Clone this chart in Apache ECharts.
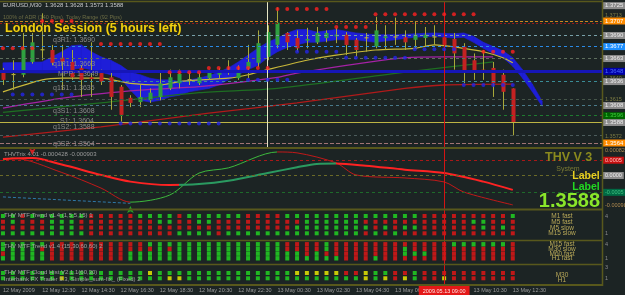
<!DOCTYPE html>
<html><head><meta charset="utf-8">
<script src="https://cdn.jsdelivr.net/npm/echarts@6/dist/echarts.min.js"></script>
<style>html,body{margin:0;padding:0;background:#1c2424;}#c{width:625px;height:295px;}</style>
</head><body><div id="c"></div>
<script>
// ---------------- DATA ----------------
const timeTickIdx = [0,4,8,12,16,20,24,28,32,36,40,44,48,52];
const timeTickLabels = ['12 May 2009','12 May 12:30','12 May 14:30','12 May 16:30','12 May 18:30','12 May 20:30','12 May 22:30','13 May 00:30','13 May 02:30','13 May 04:30','13 May 06:30','13 May 08:30','13 May 10:30','13 May 12:30'];

// [open, close, low, high] per M30 bar
const candles = [
 [1.3647,1.3638,1.3632,1.3652],[1.3644,1.3645,1.3626,1.3661],[1.3644,1.3675,1.3641,1.3693],[1.3659,1.3682,1.3657,1.3693],
 [1.3673,1.3674,1.3661,1.3716],[1.3673,1.3658,1.3655,1.3679],[1.3664,1.3659,1.3626,1.3679],[1.3659,1.3641,1.3638,1.3673],
 [1.3652,1.3638,1.3618,1.3655],[1.3641,1.3639,1.3618,1.3682],[1.3646,1.3636,1.3632,1.3650],[1.3641,1.3618,1.3603,1.3647],
 [1.3630,1.3597,1.3589,1.3632],[1.3617,1.3611,1.3606,1.3620],[1.3612,1.3618,1.3606,1.3632],[1.3614,1.3623,1.3611,1.3628],
 [1.3618,1.3634,1.3614,1.3647],[1.3628,1.3641,1.3626,1.3650],[1.3634,1.3645,1.3628,1.3650],[1.3638,1.3639,1.3632,1.3647],
 [1.3634,1.3641,1.3632,1.3647],[1.3640,1.3647,1.3638,1.3650],[1.3644,1.3646,1.3640,1.3652],[1.3646,1.3650,1.3644,1.3661],
 [1.3640,1.3647,1.3638,1.3655],[1.3652,1.3659,1.3640,1.3679],[1.3658,1.3681,1.3653,1.3696],[1.3665,1.3694,1.3661,1.3702],
 [1.3679,1.3705,1.3675,1.3723],[1.3693,1.3682,1.3673,1.3694],[1.3687,1.3675,1.3671,1.3696],[1.3684,1.3686,1.3675,1.3699],
 [1.3682,1.3693,1.3680,1.3700],[1.3687,1.3693,1.3682,1.3696],[1.3689,1.3691,1.3681,1.3699],[1.3691,1.3679,1.3667,1.3694],
 [1.3685,1.3673,1.3665,1.3687],[1.3687,1.3688,1.3671,1.3693],[1.3677,1.3696,1.3675,1.3712],[1.3687,1.3689,1.3673,1.3702],
 [1.3688,1.3689,1.3679,1.3711],[1.3688,1.3682,1.3673,1.3696],[1.3685,1.3691,1.3675,1.3706],[1.3687,1.3691,1.3677,1.3700],
 [1.3688,1.3689,1.3679,1.3702],[1.3688,1.3679,1.3650,1.3693],[1.3686,1.3669,1.3650,1.3693],[1.3677,1.3646,1.3634,1.3681],
 [1.3661,1.3647,1.3638,1.3669],[1.3650,1.3648,1.3638,1.3673],[1.3652,1.3634,1.3618,1.3659],[1.3644,1.3624,1.3603,1.3650],
 [1.3628,1.3588,1.3573,1.3628]
];

const bandIdx   = [0,4,6,7,8,9,10,11,12,13,14,15,16,17,18,19,20,21,22,23,24,25,26,27,28,29,30,31,32,34,36,38,40,42,44,46,47,48,49,50,51,52,53,54,55];
const bandUpper = [1.3658,1.3659,1.3671,1.3678,1.3679,1.3671,1.3665,1.3661,1.3655,1.3647,1.3644,1.3640,1.3638,1.3638,1.3636,1.3638,1.3640,1.3643,1.3647,1.3652,1.3659,1.3667,1.3675,1.3682,1.3687,1.3693,1.3697,1.3697,1.3694,1.3697,1.3693,1.3691,1.3691,1.3692,1.3693,1.3692,1.3693,1.3689,1.3682,1.3677,1.3672,1.3664,1.3650,1.3633,1.3613];
const bandLower = [1.3647,1.3646,1.3647,1.3650,1.3652,1.3650,1.3647,1.3644,1.3640,1.3626,1.3614,1.3612,1.3614,1.3618,1.3620,1.3624,1.3626,1.3628,1.3632,1.3638,1.3644,1.3650,1.3655,1.3664,1.3671,1.3676,1.3679,1.3682,1.3682,1.3685,1.3685,1.3682,1.3685,1.3688,1.3689,1.3687,1.3688,1.3682,1.3675,1.3669,1.3664,1.3654,1.3640,1.3624,1.3607];

const maYellow  = [[0,1.3624],[4,1.3638],[6,1.3640],[10,1.3640],[13,1.3634],[16,1.3632],[18,1.3636],[20,1.3638],[23,1.3640],[25,1.3644],[27,1.3650],[31,1.3661],[34,1.3667],[38,1.3673],[42,1.3675],[44,1.3679],[47,1.3675],[49,1.3671],[51,1.3664],[52,1.3658]];
const maMagenta = [[0,1.3605],[7,1.3618],[14,1.3626],[20,1.3630],[28,1.3641],[30,1.3646],[41,1.3664],[45,1.3665],[50,1.3665]];
const maGreen   = [[0,1.3600],[10,1.3611],[20,1.3623],[28,1.3628],[41,1.3647],[50,1.3659]];
const maRed     = [[0,1.3571],[10,1.3583],[21,1.3599],[30,1.3611],[41,1.3628],[45,1.3632],[52,1.3633]];

const redDots = [[0,1.3675],[1,1.3675],[2,1.3675],[3,1.3675],[4,1.3707],[5,1.3707],[6,1.3707],[7,1.3707],
 [10,1.3680],[11,1.3680],[12,1.3680],[13,1.3680],[14,1.3680],[15,1.3680],[16,1.3680],
 [17,1.3647],[18,1.3647],[19,1.3647],[20,1.3647],
 [21,1.3652],[22,1.3652],[23,1.3652],[24,1.3652],[25,1.3652],[26,1.3652],[27,1.3652],
 [28,1.3721],[29,1.3721],[30,1.3721],[31,1.3721],[32,1.3721],[33,1.3721],
 [34,1.3700],[35,1.3700],[36,1.3700],[37,1.3700],
 [38,1.3715],[39,1.3715],[40,1.3715],[41,1.3715],[42,1.3715],[43,1.3715],[44,1.3715],[45,1.3715],[46,1.3715],[47,1.3715],[48,1.3715],
 [49,1.3671],[50,1.3671],[51,1.3671],[52,1.3671]];
const blueDots = [[1,1.3621],[2,1.3621],[3,1.3621],[4,1.3621],[5,1.3621],[6,1.3621],[7,1.3621],
 [12,1.3587],[13,1.3587],[14,1.3587],[15,1.3587],[16,1.3587],[17,1.3587],[18,1.3587],[19,1.3587],[20,1.3587],[21,1.3587],[22,1.3587],
 [25,1.3638],[26,1.3638],[27,1.3638],[28,1.3638],[29,1.3638],
 [30,1.3671],[31,1.3671],[32,1.3671],[33,1.3671],[34,1.3671],
 [35,1.3664],[36,1.3664],[37,1.3664],[38,1.3664],[39,1.3664],[40,1.3664],[41,1.3664],
 [42,1.3674],[43,1.3674],[44,1.3674],[45,1.3674],[46,1.3674],
 [47,1.3632],[48,1.3632],[49,1.3632],[50,1.3632],[51,1.3632],[52,1.3632]];

const levelPrices = [1.3725,1.3707,1.3704,1.3690,1.3677,1.3663,1.3648,1.3636,1.3615,1.3608,1.3596,1.3588,1.3573,1.3564];
const levelKinds  = ['top','orange','darkred','steel','blue','grayg','thick','teal','dim','steel2','green','cur','dim2','pink'];
const priceScaleLabels = [1.3713,1.3640,1.3615,1.3572];

const trixThin  = [[0,0.00050],[1,0.00057],[6,0.00010],[10,-0.00041],[13,-0.00087],[17,-0.00064],[20,0.00008],[23,0.00025],[28,0.00077],[30,0.00074],[34,0.00041],[36,0.00002],[41,-0.00008],[45,-0.00021],[47,-0.00054],[52,-0.00096]];
const trixThick = [[0,0.00054],[3,0.00057],[6,0.00036],[10,0.00002],[13,-0.00020],[17,-0.00031],[20,-0.00028],[23,-0.00017],[27,0.00008],[30,0.00027],[32,0.00038],[34,0.00039],[37,0.00032],[41,0.00019],[45,0.00008],[49,-0.00020],[52,-0.00047]];
const trixSignal = [[0,-0.00070],[13,-0.00091]];
const trixUpArrow = [[13,-0.00100]];
const trixDownArrow = [[3,0.00066]];
const trixLevels = [0.0005, 0, -0.00055];
const trixLevelText = ['0.0005','0.0000','-0.0005'];
const trixScaleLabels = [0.00082,-0.00098];

const mtf1 = [
 'GGRGGGGGGRRRRRGGGGRGGG'+'GGGRRRRGGGGGGGGGGGGG'+'GRRRRRRRRRG',
 'RGRRRGGGRRRRRRRRGGRRGG'+'RRRRRRRRRGGGGGGRRRRR'+'RRRRRRGGRRR',
 'RRRRRGGGRRRRRRRRRRRRRR'+'RRRRRRRRGGGGGGGGRGRG'+'GRRRRRRGRGR',
 'GGGGGGGGGRRRRRRRRRGGGG'+'RGGGGGGGGGGGGGGRGRGR'+'RRRRRRRRRRR'];
const mtf2 = [
 'GGGGGRRRRRRRRRRGGGGGGG'+'GGGGGGGRRRRGRRRRRRRR'+'RRRRGGGGGGR',
 'GGGGRRRRRRRRRRRRGRGGGG'+'GGGGGGGRRRRGRRRRRRRG'+'RRRRRRRRRRR',
 'RGGGGRRRRRRRRGGGGGGGGG'+'GGGGGGGGGRGRRRRRRRRG'+'GGRRRRRRRRR',
 'GGGGGRRRRRRRRGGGGGGGGG'+'GGGGGGGGGGGGGRRRGRRR'+'RRRRRRRRRRR'];
const mtf3 = [
 'GGGGGGGGGGGGGGGYGGGGG'+'GGGGGGGGG'+'YYYYY'+'RR'+'Y'+'GG'+'RR'+'G'+'RRRRRRRRRR',
 'GGGGGG'+'Y'+'GGGGGGGGGG'+'YY'+'GGGGGGGGGGGGGGGGGG'+'Y'+'G'+'Y'+'R'+'Y'+'G'+'RR'+'Y'+'RRRRRRR'];
const mtf1Names = ['M1 fast','M5 fast','M5 slow','M15 slow'];
const mtf2Names = ['M15 fast','M30 slow','M60 fast','H1 fast'];
const mtf3Names = ['M30','H1'];
const cursorIdx = 45, cursorText = '2009.05.13 09:00';
const markIdx = 27;

// ---------------- STYLE ----------------
const FONT = '"Liberation Sans", Arial, sans-serif';
const BG = '#1c2424', FRAME = '#58581c';
const stateColor = {G:'#22dc22', R:'#ea1515', Y:'#f2f200'};
const levelStyle = {
  top:    {c:'rgba(0,0,0,0)', t:'solid', w:1, box:['#8c8c8c','#eeeeee']},
  orange: {c:'#c8881e', t:[3,2], w:1, box:['#ff8c00','#ffffff']},
  darkred:{c:'#961a1a', t:[2,2], w:1, box:null},
  steel:  {c:'#78a0a8', t:[3,3], w:1, box:['#8c8c8c','#eeeeee']},
  blue:   {c:'#2a8ae6', t:[3,3], w:1, box:['#1e90ff','#ffffff']},
  grayg:  {c:'#5e6e5e', t:[3,3], w:1, box:['#8c8c8c','#eeeeee']},
  thick:  {c:'#1616b8', t:'solid', w:3, box:['#0000a8','#4a6aff']},
  teal:   {c:'#3a8c96', t:[3,3], w:1, box:['#8c8c8c','#eeeeee']},
  dim:    {c:'#46564a', t:[3,3], w:1, box:null},
  steel2: {c:'#4a7a8a', t:[3,3], w:1, box:['#8c8c8c','#eeeeee']},
  green:  {c:'#1f7a30', t:[3,3], w:1, box:['#006400','#3cd03c']},
  cur:    {c:'#bcb444', t:'solid', w:1, box:['#8c8c8c','#eeeeee']},
  dim2:   {c:'#4c5c5c', t:[3,3], w:1, box:null},
  pink:   {c:'#a07474', t:[4,2], w:1, box:['#ff8c00','#ffffff']}
};
const trixLevelStyle = [
  {c:'#a81818', t:[3,3], box:['#c81010','#ffc0c0']},
  {c:'#6a6a28', t:[3,3], box:['#8c8c8c','#f0f0f0']},
  {c:'#1e6a2a', t:[3,3], box:['#006a44','#40c080']}
];

// ---------------- CHART ----------------
const chart = echarts.init(document.getElementById('c'), null, {renderer:'canvas'});
const XMIN = -0.3, XMAX = 61.1;
const grids = [
  {left:0, top:2,   width:602, height:145},
  {left:0, top:149, width:602, height:60},
  {left:0, top:210, width:602, height:30},
  {left:0, top:241, width:602, height:23},
  {left:0, top:265, width:602, height:19}
].map(g => Object.assign(g, {containLabel:false, outerBoundsMode:'none', show:false}));

const xAxes = grids.map((g, k) => ({
  type:'value', gridIndex:k, min:XMIN, max:XMAX,
  axisLine:{show:false}, axisTick:{show:false}, splitLine:{show:false},
  axisLabel: k === 4 ? {
    show:true, customValues:timeTickIdx, align:'left', margin:3,
    color:'#9c9c9c', fontSize:5.5, fontFamily:FONT,
    formatter: v => timeTickLabels[timeTickIdx.indexOf(Math.round(v))] || ''
  } : {show:false}
}));
const yRight = (k, min, max, vals, fmt, color) => ({
  type:'value', gridIndex:k, min, max, position:'right',
  axisLine:{show:false}, axisTick:{show:false}, splitLine:{show:false},
  axisLabel:{show:true, customValues:vals, formatter:fmt, color, fontSize:5.5, fontFamily:FONT, margin:3}
});
const yAxes = [
  yRight(0, 1.355932, 1.372927, priceScaleLabels, v => v.toFixed(4), '#7c7c44'),
  yRight(1, -0.001095, 0.000867, trixScaleLabels, v => v.toFixed(5), '#b08a50'),
  yRight(2, -0.16, 5.04, [4,1], v => String(v), '#8a8a8a'),
  yRight(3, -0.218, 4.707, [4,1], v => String(v), '#8a8a8a'),
  yRight(4, -0.076, 3.509, [3,1], v => String(v), '#8a8a8a')
];

const vLine = (k, withLabel) => ({
  silent:true, symbol:['none','none'], animation:false, precision:8,
  data:[{xAxis:cursorIdx}],
  lineStyle:{color:'#d41414', width:1, type:'solid'},
  label: withLabel ? {show:true, position:'start', distance:2, formatter:cursorText,
    backgroundColor:'#e41818', color:'#ffe4e4', fontSize:5.5, fontFamily:FONT, padding:[2,4,1,4]} : {show:false}
});

const series = [];
// cloud band
series.push({
  type:'custom', name:'cloud', xAxisIndex:0, yAxisIndex:0, z:1, silent:true,
  data: bandIdx.map((x,k) => [x, bandUpper[k], bandLower[k]]),
  encode:{x:0, y:[1,2]},
  renderItem:(params, api) => {
    const k = params.dataIndex;
    if (k >= bandIdx.length - 1) return null;
    const a1 = api.coord([bandIdx[k], bandUpper[k]]), a2 = api.coord([bandIdx[k+1], bandUpper[k+1]]);
    const b2 = api.coord([bandIdx[k+1], bandLower[k+1]]), b1 = api.coord([bandIdx[k], bandLower[k]]);
    return {type:'polygon', shape:{points:[a1,a2,b2,b1]}, style:{fill:'#1e1ed8', stroke:'#1e1ed8', lineWidth:0.6}};
  }
});
// MA lines
const maLine = (name, data, color, width) => ({type:'line', name, xAxisIndex:0, yAxisIndex:0, data,
  symbol:'none', smooth:0.25, z:2, silent:true, lineStyle:{color, width}});
series.push(maLine('maRed', maRed, '#b01a1a', 1.3));
series.push(maLine('maGreen', maGreen, '#1e6e22', 1.3));
series.push(maLine('maMagenta', maMagenta, '#a422a4', 1.3));
series.push(maLine('maYellow', maYellow, '#c8b83a', 1.2));
// candles
series.push({
  type:'custom', name:'candles', xAxisIndex:0, yAxisIndex:0, z:3, silent:true,
  data: candles.map((c,i) => [i, c[0], c[1], c[2], c[3]]),
  encode:{x:0, y:[1,2,3,4]},
  renderItem:(params, api) => {
    const i = api.value(0), o = api.value(1), c = api.value(2), l = api.value(3), h = api.value(4);
    const pO = api.coord([i,o]), pC = api.coord([i,c]), pL = api.coord([i,l]), pH = api.coord([i,h]);
    const x = Math.round(pO[0]) + 0.5, w = 4;
    const doji = Math.abs(c - o) < 0.00015;
    const fill = doji ? '#b4ac3c' : (c > o ? '#2fa040' : '#c42222');
    const top = Math.min(pO[1], pC[1]), bot = Math.max(pO[1], pC[1]);
    return {type:'group', children:[
      {type:'line', shape:{x1:x, y1:pH[1], x2:x, y2:pL[1]}, style:{stroke:'#a8a83a', lineWidth:1}},
      {type:'rect', shape:{x:x - w/2, y:top, width:w, height:Math.max(bot-top, 1.2)}, style:{fill}}
    ]};
  }
});
// horizontal levels + vertical lines in main
series.push({
  type:'line', name:'levels', xAxisIndex:0, yAxisIndex:0, z:4, silent:true, symbol:'none',
  data:[[-5,1.3648],[-4,1.3648]], lineStyle:{width:0},
  markLine:{
    silent:true, symbol:['none','none'], animation:false, precision:8,
    data: levelPrices.map((p,k) => {
      const s = levelStyle[levelKinds[k]];
      return {yAxis:p, lineStyle:{color:s.c, type:s.t, width:s.w},
        label: s.box ? {show:true, position:'end', distance:1, formatter:p.toFixed(4),
          backgroundColor:s.box[0], color:s.box[1], fontSize:6, fontFamily:FONT, padding:[1,2,0,2]} : {show:false}};
    }).concat([
      {xAxis:markIdx, lineStyle:{color:'#e6e6c4', width:1, type:'solid'}, label:{show:false}},
      {xAxis:cursorIdx, lineStyle:{color:'#d41414', width:1, type:'solid'}, label:{show:false}}
    ])
  }
});
// dots
series.push({type:'scatter', name:'redDots', xAxisIndex:0, yAxisIndex:0, z:5, silent:true, data:redDots,
  symbol:'circle', symbolSize:4, itemStyle:{color:'#ff2020'}});
series.push({type:'scatter', name:'blueDots', xAxisIndex:0, yAxisIndex:0, z:5, silent:true, data:blueDots,
  symbol:'circle', symbolSize:4, itemStyle:{color:'#2424e8'}});

// TRIX panel
series.push({type:'line', name:'signal', xAxisIndex:1, yAxisIndex:1, data:trixSignal, symbol:'none', z:2, silent:true,
  lineStyle:{color:'#2f78a8', width:1, type:[3,2]},
  markLine:{
    silent:true, symbol:['none','none'], animation:false, precision:8,
    data: trixLevels.map((v,k) => ({yAxis:v, lineStyle:{color:trixLevelStyle[k].c, type:trixLevelStyle[k].t, width:1},
      label:{show:true, position:'end', distance:1, formatter:trixLevelText[k], backgroundColor:trixLevelStyle[k].box[0],
        color:trixLevelStyle[k].box[1], fontSize:5.5, fontFamily:FONT, padding:[1,2,0,2]}}))
      .concat([{xAxis:cursorIdx, lineStyle:{color:'#d41414', width:1, type:'solid'}, label:{show:false}}])
  }});
const thinIdx = series.length;
series.push({type:'line', name:'trixThin', xAxisIndex:1, yAxisIndex:1, data:trixThin, symbol:'none', smooth:0.3, z:3, silent:true,
  lineStyle:{width:1}});
const thickIdx = series.length;
series.push({type:'line', name:'trixThick', xAxisIndex:1, yAxisIndex:1, data:trixThick, symbol:'none', smooth:0.3, z:3, silent:true,
  lineStyle:{width:2}});
series.push({type:'scatter', xAxisIndex:1, yAxisIndex:1, data:trixUpArrow, symbol:'arrow', symbolSize:[5,7], z:4, silent:true,
  itemStyle:{color:'#28c828'}});
series.push({type:'scatter', xAxisIndex:1, yAxisIndex:1, data:trixDownArrow, symbol:'arrow', symbolRotate:180, symbolSize:[5,7], z:4, silent:true,
  itemStyle:{color:'#ff2020'}});

// MTF panels
const mtfSeries = (rows, vals, gi, size, withLabel) => ({
  type:'scatter', xAxisIndex:gi, yAxisIndex:gi, z:3, silent:true, symbol:'rect', symbolSize:size,
  data: rows.flatMap((row, r) => row.split('').map((ch, i) => [i, vals[r], ch])),
  itemStyle:{color: p => stateColor[p.data[2]]},
  markLine: vLine(gi, withLabel)
});
series.push(mtfSeries(mtf1, [4,3,2,1], 2, [4,4], false));
series.push(mtfSeries(mtf2, [4,3,2,1], 3, [4,4.4], false));
series.push(mtfSeries(mtf3, [2,1], 4, [4,4], true));

// ---------------- GRAPHIC (frame + text) ----------------
const T = (x, y, text, size, fill, extra) => ({type:'text', x, y, z:100, silent:true,
  style:Object.assign({text, fontSize:size, fontFamily:FONT, fill, verticalAlign:'middle', align:'left'}, extra || {})});
const HL = (y, w) => ({type:'line', z:90, silent:true, shape:{x1:0, y1:y, x2:603, y2:y}, style:{stroke:FRAME, lineWidth:w}});
const pivotLabels = [['q3R1: 1.3690',53,40],['q1R1: 1.3663',53,64],['MPP: 1.3649',58,74],['q1S1: 1.3635',53,88],
  ['q3S1: 1.3608',53,111],['S1: 1.3604',60,121],['q1S2: 1.3588',53,127],['q3S2: 1.3564',53,144]];
const graphic = [
  HL(1.5,1.5), HL(148,2), HL(209.5,2), HL(240.5,1.5), HL(264.5,1.5), HL(285,2),
  {type:'line', z:90, silent:true, shape:{x1:602.5, y1:0, x2:602.5, y2:286}, style:{stroke:FRAME, lineWidth:1.5}},
  T(3, 5.5, 'EURUSD,M30  1.3628 1.3628 1.3573 1.3588', 6, '#c8c8c8'),
  T(3, 17.5, '100% of ADR (140 Pips), Today Range (92 Pips)', 5.5, '#6c6c44'),
  T(5, 28.5, 'London Session (5 hours left)', 12.5, '#f0d012', {fontWeight:'bold', stroke:'#3a3000', lineWidth:0.8}),
  ...pivotLabels.map(p => T(p[1], p[2], p[0], 7, '#8a8a8a')),
  T(4, 154.5, 'THVTrix 4.01 -0.000428 -0.000903', 6, '#9a9a9a'),
  T(545, 157.5, 'THV V 3', 12.5, '#8a8a1e', {fontWeight:'bold'}),
  T(568, 169.5, 'System', 7, '#7a7a34', {align:'center'}),
  T(586, 176.5, 'Label', 10.5, '#e8d020', {fontWeight:'bold', align:'center'}),
  T(586, 187.5, 'Label', 10.5, '#22d822', {fontWeight:'bold', align:'center'}),
  T(600, 201.5, '1.3588', 20, '#8ae62a', {fontWeight:'bold', align:'right'}),
  T(4, 215.5, 'THV MTF Trend v1.4 (1,5,5,15) 1', 6, '#a0a0a0'),
  T(4, 246, 'THV MTF Trend v1.4 (15,30,60,60) 2', 6, '#a0a0a0'),
  T(4, 272.5, 'THV MTF Cloud Hist V2.1.1(60,30)', 6, '#a0a0a0'),
  T(4, 279, 'Interbank FX Trader 3.3, Simple_sum-fix_ (Fixed) 2', 6, '#a0a0a0'),
  ...mtf1Names.map((n,k) => T(562, [216,222,228,233.5][k], n, 6.5, '#b8a858', {align:'center'})),
  ...mtf2Names.map((n,k) => T(562, [244.5,249.5,254,258.5][k], n, 6.5, '#b8a858', {align:'center'})),
  ...mtf3Names.map((n,k) => T(562, [275.5,280.5][k], n, 6.5, '#b8a858', {align:'center'}))
];

chart.setOption({
  backgroundColor: BG,
  animation:false,
  grid: grids, xAxis: xAxes, yAxis: yAxes,
  visualMap:[
    {type:'piecewise', show:false, seriesIndex:thinIdx, dimension:0,
      pieces:[{lt:1, color:'#3cb83c'},{gte:1, lt:13, color:'#c01818'},{gte:13, lt:28, color:'#3cb83c'},{gte:28, color:'#c01818'}]},
    {type:'piecewise', show:false, seriesIndex:thickIdx, dimension:0,
      pieces:[{lt:18, color:'#ff2222'},{gte:18, lt:34, color:'#2a9a60'},{gte:34, color:'#ff2222'}]}
  ],
  series, graphic
});
</script></body></html>
